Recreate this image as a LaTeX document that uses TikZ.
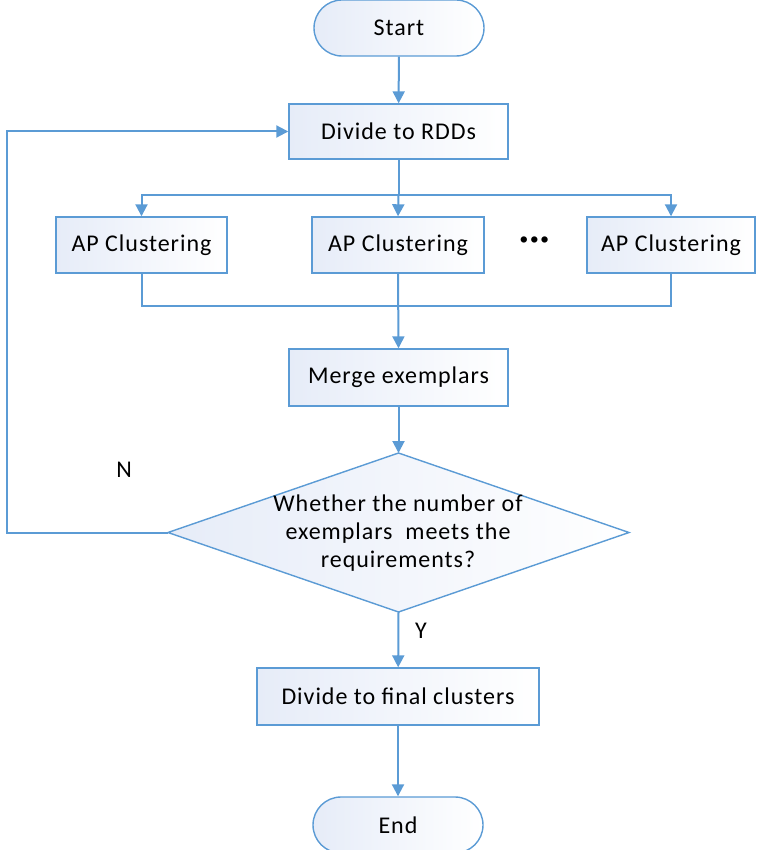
\documentclass[tikz,border=0pt]{standalone}
\usepackage{fontspec}
\setmainfont{Carlito}[LetterSpace=4]
\usetikzlibrary{arrows.meta}
\definecolor{lblue}{HTML}{5B9BD5}
\definecolor{bfill}{RGB}{230,236,248}
\tikzset{
  base/.style={draw=lblue, line width=1.4pt, left color=bfill, right color=white, inner sep=0pt, font=\fontsize{24}{28}\selectfont},
  procbox/.style={base, rectangle},
  termbox/.style={base, rectangle, rounded corners=28pt, minimum width=170pt, minimum height=56pt},
  conn/.style={draw=lblue, line width=2pt},
  arr/.style={conn, -{Triangle[width=12pt,length=12pt]}},
  lbl/.style={font=\fontsize{24}{28}\selectfont, inner sep=0pt},
}
\begin{document}
\begin{tikzpicture}[x=1pt,y=-1pt]
\useasboundingbox (0,0) rectangle (757,850);
\node[termbox] (start) at (399,28) {Start};
\node[procbox, minimum width=219pt, minimum height=55pt] (rdd) at (398.5,131.5) {Divide to RDDs};
\node[procbox, minimum width=171pt, minimum height=56pt] (ap1) at (141.5,245) {AP Clustering};
\node[procbox, minimum width=172pt, minimum height=56pt] (ap2) at (398,245) {AP Clustering};
\node[procbox, minimum width=168pt, minimum height=56pt] (ap3) at (671,245) {AP Clustering};
\node[lbl, font=\fontsize{34}{34}\selectfont] (dots) at (535,243) {\textbf{···}};
\node[procbox, minimum width=219pt, minimum height=57pt] (merge) at (398.5,377.5) {Merge exemplars};
\coordinate (dtop) at (398.5,453);
\coordinate (dbot) at (398.5,612);
\coordinate (dleft) at (168,532.5);
\coordinate (dright) at (629,532.5);
\fill[left color=bfill, right color=white] (dtop) -- (dright) -- (dbot) -- (dleft) -- cycle;
\draw[draw=lblue, line width=1.4pt] (dtop) -- (dright) -- (dbot) -- (dleft) -- cycle;
\node[lbl, align=center] (dq) at (398,533) {Whether the number of\\[0pt]exemplars\ \ meets the\\[0pt]requirements?};
\node[procbox, minimum width=282pt, minimum height=57pt] (final) at (398,696.5) {Divide to final clusters};
\node[termbox] (endn) at (398,825) {End};
\node[lbl] (nlab) at (124,470) {N};
\node[lbl] (ylab) at (421,631) {Y};
\coordinate (br) at (398.5,195);
\coordinate (mg) at (398.5,306);
\coordinate (lc) at (7,532.5);
\draw[arr] (start) -- (rdd);
\draw[conn] (rdd) -- (br);
\draw[arr] (br) -| (ap1.north);
\draw[arr] (br) -| (ap3.north);
\draw[arr] (br) -- (ap2.north);
\draw[conn] (ap1.south) |- (mg);
\draw[conn] (ap3.south) |- (mg);
\draw[arr] (ap2.south) -- (merge.north);
\draw[arr] (merge) -- (dtop);
\draw[arr] (dleft) -- (lc) |- (rdd.west);
\draw[arr] (dbot) -- (final);
\draw[arr] (final) -- (endn);
\end{tikzpicture}
\end{document}
